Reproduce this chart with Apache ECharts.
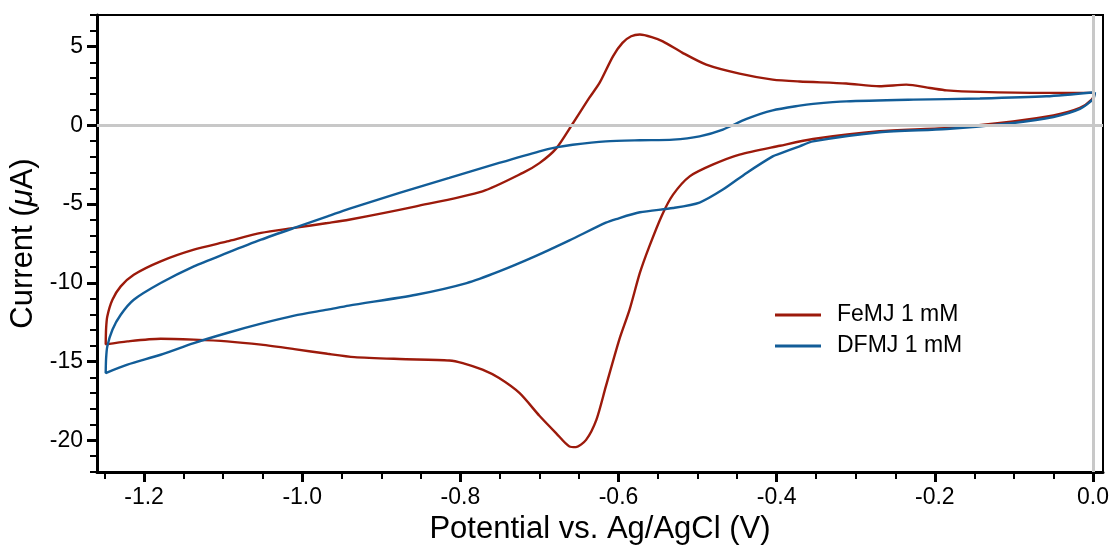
<!DOCTYPE html>
<html>
<head>
<meta charset="utf-8">
<script src="https://cdn.jsdelivr.net/npm/echarts@6/dist/echarts.min.js"></script>
<style>
html,body{margin:0;padding:0;background:#fff;}
#chart{width:1114px;height:549px;}
</style>
</head>
<body>
<div id="chart"></div>
<script>
// Potential (V) and current (µA), loop order
var femjX = [0.0025, -0.0016, -0.0165, -0.05, -0.101, -0.185, -0.27, -0.354, -0.396, -0.447, -0.481, -0.51, -0.531, -0.545, -0.561, -0.573, -0.586, -0.599, -0.616, -0.628, -0.641, -0.654, -0.662, -0.679, -0.700, -0.725, -0.751, -0.772, -0.797, -0.814, -0.877, -0.934, -0.968, -1.010, -1.052, -1.095, -1.137, -1.179, -1.221, -1.2485,
  -1.248, -1.2465, -1.240, -1.2295, -1.213, -1.179, -1.137, -1.095, -1.052, -1.010, -0.968, -0.941, -0.856, -0.772, -0.721, -0.700, -0.679, -0.658, -0.637, -0.624, -0.607, -0.595, -0.584, -0.573, -0.558, -0.544, -0.519, -0.489, -0.447, -0.405, -0.371, -0.312, -0.27, -0.236, -0.206, -0.185, -0.143, -0.059, 0.0025];
var femjY = [2.06, 1.63, 1.10, 0.62, 0.25, -0.17, -0.38, -0.87, -1.30, -1.86, -2.5, -3.24, -4.4, -5.7, -7.68, -9.37, -11.7, -13.6, -16.57, -18.69, -19.96, -20.42, -20.38, -19.53, -18.43, -17.0, -16.04, -15.51, -15.09, -14.92, -14.83, -14.71, -14.5, -14.2, -13.92, -13.71, -13.6, -13.54, -13.71, -13.9,
  -12.9, -12.13, -11.07, -10.22, -9.48, -8.63, -7.89, -7.37, -6.83, -6.51, -6.2, -5.99, -5.14, -4.19, -3.02, -2.4, -1.48, 0.1, 1.74, 2.69, 4.38, 5.23, 5.65, 5.76, 5.6, 5.33, 4.6, 3.85, 3.28, 2.9, 2.78, 2.65, 2.48, 2.58, 2.37, 2.22, 2.12, 2.06, 2.06];

var dfmjX = [0.0025, 0.0004, -0.0165, -0.05, -0.101, -0.185, -0.27, -0.354, -0.371, -0.396, -0.405, -0.438, -0.468, -0.4975, -0.531, -0.573, -0.603, -0.616, -0.662, -0.705, -0.751, -0.792, -0.856, -0.941, -0.968, -1.010, -1.052, -1.095, -1.137, -1.179, -1.221, -1.2485,
  -1.248, -1.2465, -1.240, -1.2295, -1.213, -1.179, -1.137, -1.095, -1.052, -1.010, -0.968, -0.941, -0.877, -0.814, -0.751, -0.700, -0.679, -0.658, -0.616, -0.573, -0.531, -0.4975, -0.468, -0.438, -0.405, -0.371, -0.354, -0.312, -0.227, -0.143, -0.059, 0.0025];
var dfmjY = [2.1, 1.68, 1.04, 0.53, 0.15, -0.23, -0.44, -1.02, -1.33, -1.8, -1.97, -3.02, -4.08, -4.9, -5.25, -5.52, -5.95, -6.18, -7.3, -8.3, -9.27, -10.01, -10.75, -11.44, -11.7, -12.08, -12.59, -13.18, -13.82, -14.56, -15.19, -15.72,
  -14.8, -14.03, -12.97, -12.02, -11.07, -10.01, -8.95, -8.1, -7.26, -6.51, -5.78, -5.3, -4.29, -3.34, -2.39, -1.65, -1.4, -1.23, -1.02, -0.95, -0.91, -0.70, -0.27, 0.41, 0.95, 1.25, 1.36, 1.52, 1.63, 1.70, 1.84, 2.1];

var seriesNames = ['FeMJ 1 mM', 'DFMJ 1 mM'];
var xMajorTicks = [-1.2, -1.0, -0.8, -0.6, -0.4, -0.2, 0.0];
var xMinorTicks = [-1.25, -1.15, -1.1, -1.05, -0.95, -0.9, -0.85, -0.75, -0.7, -0.65, -0.55, -0.5, -0.45, -0.35, -0.3, -0.25, -0.15, -0.1, -0.05];
var yMajorTicks = [-20, -15, -10, -5, 0, 5];
var yMinorTicks = [-22, -21, -19, -18, -17, -16, -14, -13, -12, -11, -9, -8, -7, -6, -4, -3, -2, -1, 1, 2, 3, 4, 6, 7];
var xRange = [-1.2595, 0.0127];
var yRange = [-22, 7];

function zip(a, b) { return a.map(function (v, i) { return [v, b[i]]; }); }

var FONT = 'Liberation Sans, Arial, Helvetica, sans-serif';
var chart = echarts.init(document.getElementById('chart'), null, {renderer: 'canvas'});
chart.setOption({
  animation: false,
  backgroundColor: '#ffffff',
  grid: {left: 97, right: 11, top: 15, bottom: 77, show: true, borderColor: '#000', borderWidth: 2, outerBoundsMode: 'none', containLabel: false},
  legend: {
    data: seriesNames, orient: 'vertical', left: 770, top: 298,
    itemWidth: 46, itemHeight: 3, itemGap: 7, icon: 'rect',
    textStyle: {fontFamily: FONT, fontSize: 23, color: '#000', lineHeight: 24, padding: [0, 0, 0, 11]}
  },
  xAxis: [{
    type: 'value', min: xRange[0], max: xRange[1], position: 'bottom',
    name: 'Potential vs. Ag/AgCl (V)', nameLocation: 'middle', nameGap: 38,
    nameTextStyle: {fontFamily: FONT, fontSize: 31, color: '#000'},
    axisLine: {show: true, onZero: false, lineStyle: {color: '#000', width: 3}},
    axisTick: {show: true, customValues: xMajorTicks, length: 10, lineStyle: {color: '#000', width: 3}},
    axisLabel: {customValues: xMajorTicks, margin: 14, fontFamily: FONT, fontSize: 23, color: '#000',
      formatter: function (v) { return v.toFixed(1); }},
    splitLine: {show: false}
  }, {
    type: 'value', min: xRange[0], max: xRange[1], position: 'bottom', gridIndex: 0,
    axisLine: {show: false, onZero: false},
    axisTick: {show: true, customValues: xMinorTicks, length: 7, lineStyle: {color: '#000', width: 2}},
    axisLabel: {show: false}, splitLine: {show: false}
  }],
  yAxis: [{
    type: 'value', min: yRange[0], max: yRange[1], position: 'left',
    name: 'Current ({i|μ}A)', nameLocation: 'middle', nameGap: 50, nameRotate: 90,
    nameTextStyle: {fontFamily: FONT, fontSize: 31, color: '#000', padding: [0, 0, 0, 0],
      rich: {i: {fontFamily: FONT, fontSize: 31, fontStyle: 'italic', color: '#000'}}},
    axisLine: {show: true, onZero: false, lineStyle: {color: '#000', width: 3}},
    axisTick: {show: true, customValues: yMajorTicks, length: 10, lineStyle: {color: '#000', width: 3}},
    axisLabel: {customValues: yMajorTicks, margin: 14, fontFamily: FONT, fontSize: 23, color: '#000'},
    splitLine: {show: false}
  }, {
    type: 'value', min: yRange[0], max: yRange[1], position: 'left', gridIndex: 0,
    axisLine: {show: false, onZero: false},
    axisTick: {show: true, customValues: yMinorTicks, length: 7, lineStyle: {color: '#000', width: 2}},
    axisLabel: {show: false}, splitLine: {show: false}
  }],
  series: [{
    type: 'line', data: [], silent: true, z: 1,
    markLine: {silent: true, symbol: 'none', label: {show: false},
      lineStyle: {color: '#c8c8c8', width: 3, type: 'solid'},
      data: [{yAxis: 0}, {xAxis: 0}]}
  }, {
    name: seriesNames[0], type: 'line', data: zip(femjX, femjY), showSymbol: false, symbol: 'none', z: 3,
    smooth: 0.25, color: '#9c1a0b', lineStyle: {color: '#9c1a0b', width: 2.4}
  }, {
    name: seriesNames[1], type: 'line', data: zip(dfmjX, dfmjY), showSymbol: false, symbol: 'none', z: 4,
    smooth: 0.25, color: '#125d98', lineStyle: {color: '#125d98', width: 2.4}
  }]
});
</script>
</body>
</html>
